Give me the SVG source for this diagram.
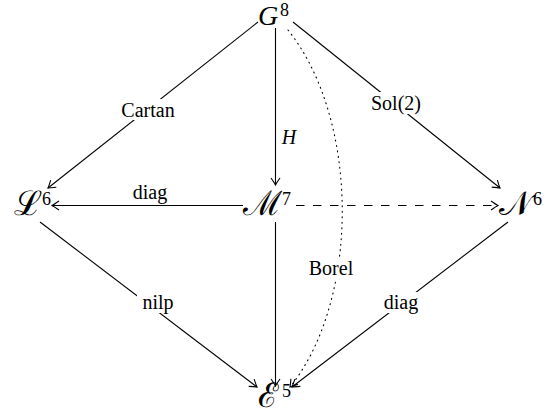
<svg xmlns="http://www.w3.org/2000/svg" width="548" height="418" viewBox="0 0 548 418">
<style>
.n{font-family:"Liberation Serif","DejaVu Serif",serif;font-size:28px;fill:#000}
.c{font-family:"DejaVu Serif","Liberation Serif",serif;font-size:34px;fill:#000}
.sup{font-family:"Liberation Serif","DejaVu Serif",serif;font-size:18px;fill:#000}
.lb{font-family:"Liberation Serif","DejaVu Serif",serif;font-size:20px;fill:#000;text-anchor:middle;dominant-baseline:central}
.bg{fill:#fff}
.e{stroke:#000;stroke-width:1.1;fill:none}
</style>
<defs>
<marker id="ar" viewBox="-10 -6 12 12" markerWidth="12" markerHeight="12" refX="0" refY="0" orient="auto" markerUnits="userSpaceOnUse">
<path d="M-7,-4.5 Q-2,-1 0,0 Q-2,1 -7,4.5" fill="none" stroke="#000" stroke-width="1.1"/>
</marker>
</defs>
<rect width="548" height="418" fill="#fff"/>
<g id="connectors">
<line class="e" x1="258" y1="22" x2="48" y2="188" marker-end="url(#ar)"/>
<line class="e" x1="293" y1="22" x2="500" y2="188" marker-end="url(#ar)"/>
<line class="e" x1="275.5" y1="28" x2="275.5" y2="185" marker-end="url(#ar)"/>
<line class="e" x1="243" y1="205.5" x2="52" y2="205.5" marker-end="url(#ar)"/>
<line class="e" x1="296" y1="205.5" x2="498" y2="205.5" stroke-dasharray="8.5 8.5" marker-end="url(#ar)"/>
<line class="e" x1="275.5" y1="222" x2="275.5" y2="386" marker-end="url(#ar)"/>
<line class="e" x1="40" y1="222" x2="257" y2="387" marker-end="url(#ar)"/>
<line class="e" x1="508" y1="222" x2="292" y2="387" marker-end="url(#ar)"/>
<path class="e" d="M288,30 C360,120 360,300 290,387" stroke-dasharray="1 4.5" stroke-linecap="round" marker-end="url(#ar)"/>
<rect class="bg" x="118" y="99" width="61" height="21"/>
<text class="lb" x="148" y="110">Cartan</text>
<rect class="bg" x="371" y="92" width="51" height="22"/>
<text class="lb" x="396" y="103">Sol(2)</text>
<text class="lb" x="289" y="137" font-style="italic">H</text>
<text class="lb" x="150" y="192">diag</text>
<rect class="bg" x="137" y="292" width="43" height="21"/>
<text class="lb" x="158" y="302">nilp</text>
<rect class="bg" x="381" y="292" width="41" height="21"/>
<text class="lb" x="401" y="302">diag</text>
<rect class="bg" x="304" y="258" width="55" height="21"/>
<text class="lb" x="331" y="268">Borel</text>
</g>
<g id="G"><text class="n" x="258" y="25" font-style="italic">G</text><text class="sup" x="280" y="16">8</text></g>
<g id="L"><text class="c" x="14" y="215">ℒ</text><text class="sup" x="42" y="205">6</text></g>
<g id="M"><text class="c" x="243" y="215">ℳ</text><text class="sup" x="282" y="205">7</text></g>
<g id="N"><text class="c" x="499" y="215">𝒩</text><text class="sup" x="533" y="205">6</text></g>
<g id="E"><text class="c" x="258" y="407">ℰ</text><text class="sup" x="282" y="397">5</text></g>
</svg>
